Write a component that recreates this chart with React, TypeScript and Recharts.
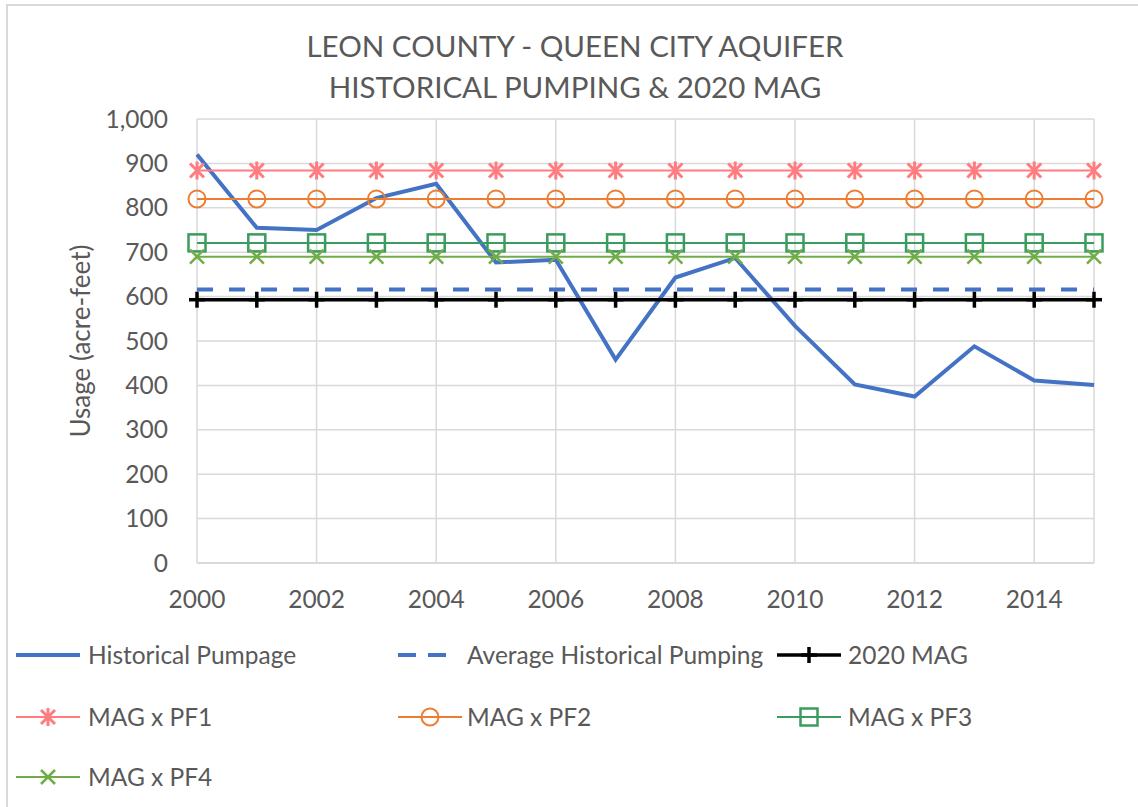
import React from "react";
import { LineChart, Line, XAxis, YAxis, CartesianGrid } from "recharts";

// values
const years = [2000, 2001, 2002, 2003, 2004, 2005, 2006, 2007, 2008, 2009, 2010, 2011, 2012, 2013, 2014, 2015];
const historicalPumpage = [920, 755, 750, 822, 854, 677, 683, 458, 643, 687, 534, 402, 375, 488, 411, 401];
const avgHistorical = [616, 616, 616, 616, 616, 616, 616, 616, 616, 616, 616, 616, 616, 616, 616, 616];
const mag2020 = [593, 593, 593, 593, 593, 593, 593, 593, 593, 593, 593, 593, 593, 593, 593, 593];
const magPF1 = [884, 884, 884, 884, 884, 884, 884, 884, 884, 884, 884, 884, 884, 884, 884, 884];
const magPF2 = [820, 820, 820, 820, 820, 820, 820, 820, 820, 820, 820, 820, 820, 820, 820, 820];
const magPF3 = [721, 721, 721, 721, 721, 721, 721, 721, 721, 721, 721, 721, 721, 721, 721, 721];
const magPF4 = [690, 690, 690, 690, 690, 690, 690, 690, 690, 690, 690, 690, 690, 690, 690, 690];

const xTicks = [2000, 2002, 2004, 2006, 2008, 2010, 2012, 2014];
const yTicks = [0, 100, 200, 300, 400, 500, 600, 700, 800, 900, 1000];

const data = years.map((year, i) => ({
  year,
  hist: historicalPumpage[i],
  avg: avgHistorical[i],
  mag: mag2020[i],
  pf1: magPF1[i],
  pf2: magPF2[i],
  pf3: magPF3[i],
  pf4: magPF4[i],
}));

const FONT = "Lato, 'Open Sans', sans-serif";
const TEXT = "#595959";
const GRID = "#d9d9d9";
const BLUE = "#4472C4";
const PINK = "#FF7C80";
const ORANGE = "#ED7D31";
const DKGREEN = "#3A9C5E";
const LTGREEN = "#70AD47";

type Mark = "star" | "circle" | "square" | "x" | "plus";

function markerShape(kind: Mark, color: string, cx: number, cy: number) {
  switch (kind) {
    case "star":
      return (
        <g stroke={color} strokeWidth={3}>
          <line x1={cx - 7} y1={cy - 7} x2={cx + 7} y2={cy + 7} />
          <line x1={cx - 7} y1={cy + 7} x2={cx + 7} y2={cy - 7} />
          <line x1={cx} y1={cy - 9} x2={cx} y2={cy + 9} />
        </g>
      );
    case "circle":
      return <circle cx={cx} cy={cy} r={8.5} fill="none" stroke={color} strokeWidth={2} />;
    case "square":
      return <rect x={cx - 8.5} y={cy - 8.5} width={17} height={17} fill="none" stroke={color} strokeWidth={2.5} />;
    case "x":
      return (
        <g stroke={color} strokeWidth={2.5}>
          <line x1={cx - 7} y1={cy - 7} x2={cx + 7} y2={cy + 7} />
          <line x1={cx - 7} y1={cy + 7} x2={cx + 7} y2={cy - 7} />
        </g>
      );
    case "plus":
      return (
        <g stroke={color} strokeWidth={3.5}>
          <line x1={cx} y1={cy - 8} x2={cx} y2={cy + 8} />
          <line x1={cx - 8} y1={cy} x2={cx + 8} y2={cy} />
        </g>
      );
  }
}

const dotFor = (kind: Mark, color: string) => (props: any) => {
  const { cx, cy, index } = props;
  return <g key={`${kind}-${index}`}>{markerShape(kind, color, cx, cy)}</g>;
};

const YLabel = (props: any) => {
  const vb = props.viewBox || { x: 0, y: 0, height: 0 };
  const x = 80;
  const y = vb.y + vb.height / 2;
  return (
    <text
      x={x}
      y={y}
      transform={`rotate(-90, ${x}, ${y})`}
      textAnchor="middle"
      dominantBaseline="central"
      fill={TEXT}
      fontSize={26}
      fontFamily={FONT}
    >
      Usage (acre-feet)
    </text>
  );
};

type LegendItem = {
  label: string;
  color: string;
  width: number;
  dash?: string;
  mark?: Mark;
  left: number;
  textLeft: number;
  top: number;
};

const legendItems: LegendItem[] = [
  { label: "Historical Pumpage", color: BLUE, width: 4, left: 16, textLeft: 88, top: 655 },
  { label: "Average Historical Pumping", color: BLUE, width: 4, dash: "18 12", left: 398, textLeft: 467, top: 655 },
  { label: "2020 MAG", color: "#000", width: 3.5, mark: "plus", left: 777, textLeft: 848, top: 655 },
  { label: "MAG x PF1", color: PINK, width: 2, mark: "star", left: 16, textLeft: 88, top: 717 },
  { label: "MAG x PF2", color: ORANGE, width: 2, mark: "circle", left: 398, textLeft: 467, top: 717 },
  { label: "MAG x PF3", color: DKGREEN, width: 2, mark: "square", left: 777, textLeft: 848, top: 717 },
  { label: "MAG x PF4", color: LTGREEN, width: 2, mark: "x", left: 16, textLeft: 88, top: 777 },
];

function ChartLegend() {
  return (
    <>
      {legendItems.map((it) => (
        <div key={it.label}>
          <svg
            width={64}
            height={24}
            style={{ position: "absolute", left: it.left, top: it.top - 12 }}
          >
            <line
              x1={0}
              y1={12}
              x2={it.dash ? 50 : 64}
              y2={12}
              stroke={it.color}
              strokeWidth={it.width}
              strokeDasharray={it.dash}
            />
            {it.mark && markerShape(it.mark, it.color, 32, 12)}
          </svg>
          <div
            style={{
              position: "absolute",
              left: it.textLeft,
              top: it.top - 15,
              lineHeight: "30px",
              fontSize: 24.5,
              color: TEXT,
              fontFamily: FONT,
              whiteSpace: "nowrap",
            }}
          >
            {it.label}
          </div>
        </div>
      ))}
    </>
  );
}

export default function App() {
  return (
    <div
      style={{
        position: "absolute",
        left: 0,
        top: 0,
        width: 1138,
        height: 807,
        overflow: "hidden",
        background: "#fff",
        fontFamily: FONT,
      }}
    >
      <div
        style={{
          position: "absolute",
          left: 6,
          top: 4,
          width: 1200,
          height: 900,
          border: `2px solid ${GRID}`,
        }}
      />
      <div
        style={{
          position: "absolute",
          left: 6,
          width: 1138,
          top: 25,
          textAlign: "center",
          fontSize: 29.5,
          lineHeight: "41px",
          color: TEXT,
        }}
      >
        LEON COUNTY - QUEEN CITY AQUIFER
        <br />
        HISTORICAL PUMPING &amp; 2020 MAG
      </div>
      <div style={{ position: "absolute", left: 0, top: 0 }}>
        <LineChart
          width={1138}
          height={807}
          data={data}
          margin={{ top: 119, right: 44, left: 0, bottom: 184 }}
        >
          <CartesianGrid stroke={GRID} strokeWidth={1.5} />
          <XAxis
            dataKey="year"
            type="number"
            domain={[2000, 2015]}
            ticks={xTicks}
            height={60}
            axisLine={{ stroke: GRID, strokeWidth: 2 }}
            tickLine={false}
            tickSize={0}
            tickMargin={28}
            tick={{ fill: TEXT, fontSize: 24.5, fontFamily: FONT }}
          />
          <YAxis
            type="number"
            domain={[0, 1000]}
            ticks={yTicks}
            width={197}
            axisLine={false}
            tickLine={false}
            tickSize={0}
            tickMargin={29}
            tickFormatter={(v: number) => v.toLocaleString("en-US")}
            tick={{ fill: TEXT, fontSize: 24.5, fontFamily: FONT }}
            label={<YLabel />}
          />
          <Line
            dataKey="hist"
            stroke={BLUE}
            strokeWidth={4}
            dot={false}
            activeDot={false}
            isAnimationActive={false}
          />
          <Line
            dataKey="avg"
            stroke={BLUE}
            strokeWidth={4}
            strokeDasharray="16 16"
            dot={false}
            activeDot={false}
            isAnimationActive={false}
          />
          <Line
            dataKey="mag"
            stroke="#000"
            strokeWidth={3.5}
            dot={dotFor("plus", "#000")}
            activeDot={false}
            isAnimationActive={false}
          />
          <Line
            dataKey="pf1"
            stroke={PINK}
            strokeWidth={2}
            dot={dotFor("star", PINK)}
            activeDot={false}
            isAnimationActive={false}
          />
          <Line
            dataKey="pf2"
            stroke={ORANGE}
            strokeWidth={2}
            dot={dotFor("circle", ORANGE)}
            activeDot={false}
            isAnimationActive={false}
          />
          <Line
            dataKey="pf3"
            stroke={DKGREEN}
            strokeWidth={2}
            dot={dotFor("square", DKGREEN)}
            activeDot={false}
            isAnimationActive={false}
          />
          <Line
            dataKey="pf4"
            stroke={LTGREEN}
            strokeWidth={2}
            dot={dotFor("x", LTGREEN)}
            activeDot={false}
            isAnimationActive={false}
          />
        </LineChart>
      </div>
      <ChartLegend />
    </div>
  );
}
